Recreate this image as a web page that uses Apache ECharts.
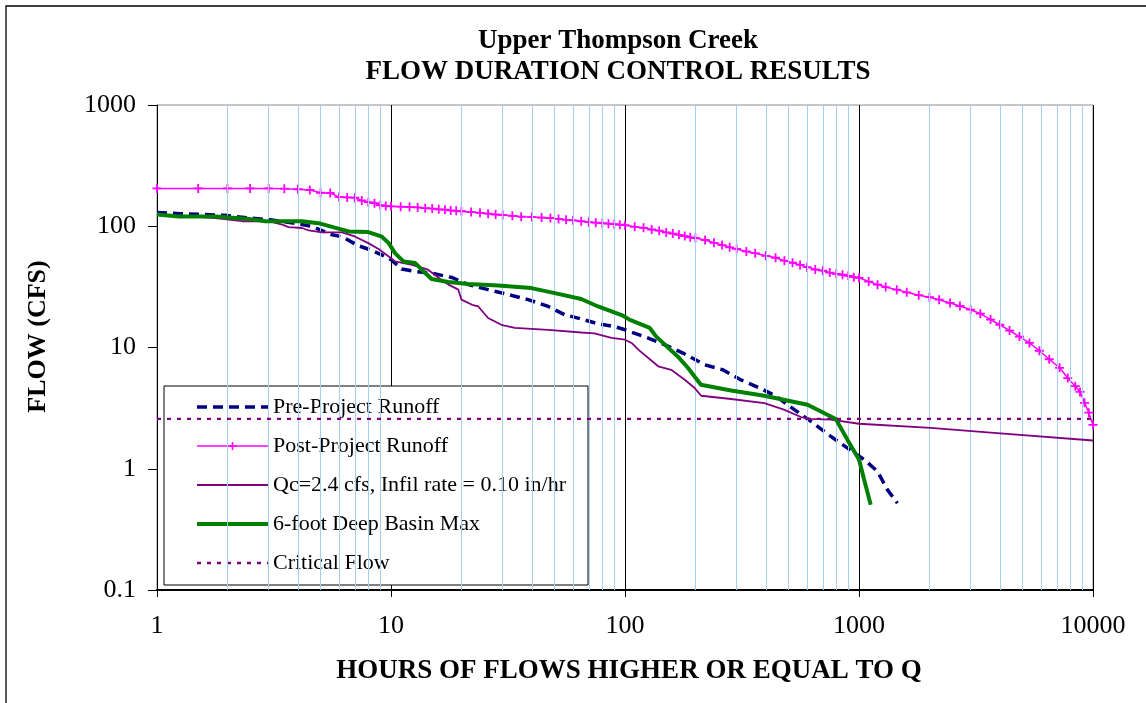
<!DOCTYPE html>
<html>
<head>
<meta charset="utf-8">
<style>
  html, body { margin: 0; padding: 0; background: #fff; }
  #chart { width: 1146px; height: 703px; }
</style>
<script src="https://cdn.jsdelivr.net/npm/echarts@6/dist/echarts.min.js"></script>
</head>
<body>
<div id="chart"></div>
<script>
// ---- Data ----
const xTickLabels = ['1', '10', '100', '1000', '10000'];
const yTickLabels = ['0.1', '1', '10', '100', '1000'];
const minorGridHours = [2,3,4,5,6,7,8,9, 20,30,40,50,60,70,80,90, 200,300,400,500,600,700,800,900, 2000,3000,4000,5000,6000,7000,8000,9000];

const preHours = [1, 1.26, 1.96, 2.47, 3.05, 4.1, 4.6, 5.6, 6.17, 7.27, 8.15, 9.14, 10, 11.1, 12.7, 14.9, 18.2, 21.4, 26, 30.7, 38.6, 47, 55.3, 65, 76.7, 90, 100, 125, 148, 177, 219, 262, 313, 377, 444, 495, 623, 758, 893, 1052, 1200, 1324, 1459];
const preFlow  = [130, 127, 123, 117, 113, 104, 99.6, 85, 82, 69, 64, 58, 53, 44.4, 42.4, 41, 37.8, 33, 30, 27.8, 24.8, 21.8, 18.6, 17.2, 15.7, 14.9, 14, 12, 10.5, 9.0, 7.2, 6.55, 5.4, 4.63, 3.95, 3.37, 2.46, 1.85, 1.48, 1.19, 0.95, 0.67, 0.52];

const postHours = [1, 1.5, 2, 2.5, 3, 3.5, 4, 4.5, 5, 5.5, 6, 6.5, 7, 7.5, 8, 8.5, 9, 9.5, 10,
  11, 12, 13, 14, 15, 16, 17, 18, 19, 20, 22, 24, 26, 28, 30, 33, 36, 40, 44, 48,
  52, 56, 60, 65, 70, 75, 80, 85, 90, 95, 100, 110, 120, 130, 140, 150, 160, 170, 180, 190, 200,
  220, 240, 260, 280, 300, 330, 360, 400, 440, 480, 520, 560, 600, 650, 700, 750, 800, 850, 900, 950, 1000,
  1100, 1200, 1300, 1450, 1600, 1800, 2000, 2200, 2450, 2700, 3000, 3300, 3650, 4000, 4400, 4850,
  5350, 5900, 6500, 7200, 7800, 8400, 8800, 9200, 9600, 10000];
const postFlow = [205, 205, 205, 205, 205, 204, 202, 199, 189, 188, 174, 173, 172, 163, 158, 155, 149, 147, 146,
  145, 144, 143, 141, 140, 138, 137, 135, 134, 133, 131, 129, 127, 125, 124, 122, 120, 119, 118, 117,
  115, 113, 112, 110, 108, 107, 106, 105, 104, 103, 102, 99, 97, 94, 92, 89, 87, 85, 83, 81, 80,
  77, 73, 70, 67, 65, 62, 60, 57, 55, 52, 50, 48, 46, 44, 43, 41.5, 40.5, 39.8, 39, 38, 37.5,
  35, 33, 31.5, 30, 28.5, 27, 26, 24.8, 23.3, 22, 20.5, 19, 17, 15.4, 13.8, 12.3,
  10.9, 9.4, 8.0, 6.8, 5.6, 4.8, 4.3, 3.5, 2.9, 2.3];

const qcHours = [1, 1.78, 2.31, 3, 3.43, 3.65, 4.17, 4.45, 5.07, 6.17, 7, 8, 8.85, 9.78, 10.4, 12.3, 14.4, 16.4, 17.6, 19.4, 20, 22.2, 23.6, 26, 29.6, 33.8, 47, 65, 74, 87.5, 100, 106.7, 114, 138.6, 157.6, 180, 198.5, 211.6, 284, 394, 478, 565, 623, 758, 1000, 2024, 3894, 10000];
const qcFlow  = [126, 117, 110, 110, 103, 98.5, 96.7, 92.3, 89, 89, 82.4, 72.6, 65, 56.4, 51.3, 48, 43.8, 36.2, 33, 30, 24.8, 22.5, 21.8, 17.5, 15.4, 14.5, 14.0, 13.3, 13.1, 12, 11.6, 10.9, 9.6, 7, 6.55, 5.42, 4.63, 4.0, 3.76, 3.48, 3.07, 2.67, 2.58, 2.54, 2.35, 2.17, 1.97, 1.71];

const basinHours = [1, 1.24, 1.78, 2.47, 2.9, 4.17, 4.9, 5.8, 6.6, 8, 9.14, 9.78, 10.4, 11.3, 12.7, 13.5, 14.9, 17.6, 21.4, 28.7, 39.8, 50.1, 65, 76.7, 98, 105, 127.6, 136, 168, 186, 211, 284, 394, 603, 796, 893, 1000, 1052, 1122];
const basinFlow  = [125, 120.5, 120.5, 115, 110, 110, 106, 97, 90.5, 89.5, 82, 72.6, 60, 51.3, 49.7, 44, 36.7, 34.7, 33.4, 32.5, 30.9, 28.1, 25.1, 21.8, 18.3, 16.9, 14.5, 12.3, 8.44, 6.77, 4.93, 4.42, 4.0, 3.37, 2.57, 1.73, 1.19, 0.81, 0.505];

const criticalHours = [1, 10000];
const criticalFlow  = [2.58, 2.58];

const seriesNames = ['Pre-Project Runoff', 'Post-Project Runoff', 'Qc=2.4 cfs, Infil rate = 0.10 in/hr', '6-foot Deep Basin Max', 'Critical Flow'];
const seriesHasMarker = [false, true, false, false, false];

// ---- styles ----
const lineStyles = [
  { color: '#000080', width: 3.5, type: [10, 6] },
  { color: '#FF00FF', width: 1.5, type: 'solid' },
  { color: '#800080', width: 1.8, type: 'solid' },
  { color: '#008000', width: 4, type: 'solid' },
  { color: '#800080', width: 2.3, type: [4, 6] }
];

// ---- build ----
const zip = (xs, ys) => xs.map((x, i) => [x, ys[i]]);
const FONT = 'Liberation Serif';
const seriesData = [
  zip(preHours, preFlow), zip(postHours, postFlow), zip(qcHours, qcFlow),
  zip(basinHours, basinFlow), zip(criticalHours, criticalFlow)
];

const chart = echarts.init(document.getElementById('chart'), null, { renderer: 'canvas' });
chart.setOption({
  animation: false,
  backgroundColor: '#fff',
  title: {
    text: 'Upper Thompson Creek\nFLOW DURATION CONTROL RESULTS',
    left: 613, top: 21, textAlign: 'center',
    textStyle: { fontFamily: FONT, fontWeight: 'bold', fontSize: 27, lineHeight: 31, color: '#000' }
  },
  graphic: [{
    type: 'rect', shape: { x: 6, y: 6, width: 1300, height: 900 },
    style: { fill: 'none', stroke: '#000', lineWidth: 1.3 }, silent: true, z: 100
  }],
  grid: { left: 157, right: 53, top: 105, bottom: 113, show: true, borderColor: '#8c8c8c', borderWidth: 1, outerBoundsMode: 'none' },
  legend: {
    orient: 'vertical', left: 164, top: 386,
    itemWidth: 71, itemHeight: 10, itemGap: 17,
    padding: [10, 22, 11, 31],
    backgroundColor: '#fff', borderColor: '#000', borderWidth: 1, borderRadius: 0,
    textStyle: { fontFamily: FONT, fontSize: 22, lineHeight: 22, color: '#000' },
    data: seriesNames.map((n, i) => {
      const item = { name: n, lineStyle: { width: lineStyles[i].width, type: lineStyles[i].type, color: lineStyles[i].color } };
      if (!seriesHasMarker[i]) item.itemStyle = { opacity: 0 };
      return item;
    })
  },
  xAxis: {
    type: 'log', logBase: 10, min: 1, max: 10000,
    name: 'HOURS OF FLOWS HIGHER OR EQUAL TO Q', nameLocation: 'middle', nameGap: 68,
    nameTextStyle: { fontFamily: FONT, fontWeight: 'bold', fontSize: 27, color: '#000', padding: [0, 0, 0, 8] },
    axisLine: { show: true, lineStyle: { color: '#000', width: 2 } },
    axisTick: { show: true, inside: false, length: 7, lineStyle: { color: '#000', width: 1 } },
    axisLabel: { margin: 23, fontFamily: FONT, fontSize: 26, color: '#000',
      formatter: v => xTickLabels[Math.round(Math.log10(v))] },
    splitLine: { show: true, lineStyle: { color: '#000', width: 1 } },
    minorTick: { show: false }, minorSplitLine: { show: false }
  },
  yAxis: {
    type: 'log', logBase: 10, min: 0.1, max: 1000,
    name: 'FLOW (CFS)', nameLocation: 'middle', nameGap: 106, nameRotate: 90,
    nameTextStyle: { fontFamily: FONT, fontWeight: 'bold', fontSize: 26, color: '#000', padding: [0, 0, 0, 22] },
    axisLine: { show: true, lineStyle: { color: '#000', width: 1 } },
    axisTick: { show: true, inside: false, length: 9, lineStyle: { color: '#000', width: 1 } },
    axisLabel: { margin: 21, fontFamily: FONT, fontSize: 26, color: '#000',
      formatter: v => yTickLabels[Math.round(Math.log10(v)) + 1] },
    splitLine: { show: false },
    minorTick: { show: false }, minorSplitLine: { show: false }
  },
  series: [
    {
      name: 'minor-grid', type: 'line', data: [], z: 1, silent: true, symbol: 'none',
      markLine: {
        silent: true, symbol: ['none', 'none'], animation: false,
        label: { show: false },
        lineStyle: { color: '#A6CEF5', width: 1, type: 'solid' },
        emphasis: { disabled: true },
        data: minorGridHours.map(h => ({ xAxis: h }))
      }
    }
  ].concat(seriesNames.map((n, i) => ({
    name: n, type: 'line', data: seriesData[i], z: 3 + i,
    symbol: seriesHasMarker[i] ? 'path://M0,4H10V6H0Z M4,0H6V10H4Z' : 'none',
    symbolSize: 9, showSymbol: seriesHasMarker[i],
    itemStyle: { color: lineStyles[i].color },
    lineStyle: lineStyles[i]
  })))
});
</script>
</body>
</html>
